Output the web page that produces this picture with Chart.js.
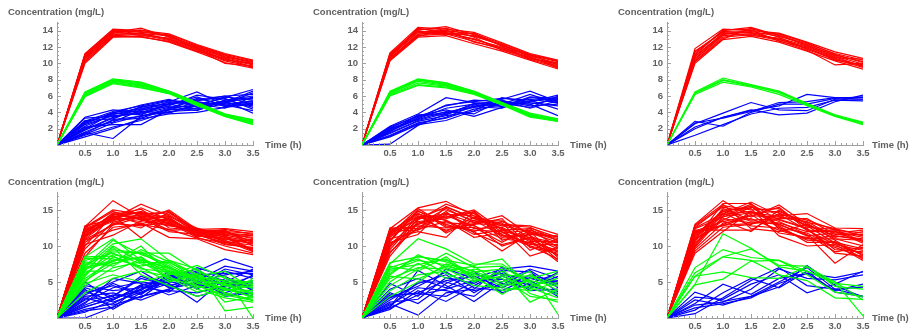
<!DOCTYPE html>
<html>
<head>
<meta charset="utf-8">
<script src="https://cdn.jsdelivr.net/npm/chart.js@4.4.1/dist/chart.umd.min.js"></script>
<style>
  body { margin: 0; background: #fff; }
  #wrap { position: relative; width: 910px; height: 330px; overflow: hidden; }
  canvas { position: absolute; }
</style>
</head>
<body>
<div id="wrap"></div>
<script>
// sampling times (h)
const times = [0, 0.5, 1.0, 1.5, 2.0, 2.5, 3.0, 3.5];

// ---- top left ----
const redA = [
  [0,11.2,14.2,14.0,13.6,12.3,11.2,10.4],
  [0,10.0,13.2,13.3,12.6,11.4,10.1,9.4],
  [0,11.0,14.0,13.9,13.4,12.0,10.8,10.1],
  [0,10.6,13.6,13.6,13.0,11.8,10.5,9.8],
  [0,10.9,13.8,14.3,13.2,12.1,11.0,10.0],
  [0,10.3,13.4,13.5,12.8,11.6,10.3,9.6],
  [0,11.1,14.1,13.8,13.5,12.2,11.1,10.3],
  [0,10.7,13.9,13.4,13.1,11.9,10.7,9.9],
  [0,10.5,13.5,13.7,12.9,11.7,10.0,9.7],
  [0,10.8,13.7,14.1,13.3,12.0,10.9,10.2],
  [0,10.2,13.3,13.2,12.7,11.5,10.6,9.5],
  [0,11.0,14.0,13.6,13.4,11.8,10.4,10.0]
];
const greenA = [
  [0,6.5,8.1,7.7,6.6,5.2,3.8,3.1],
  [0,5.9,7.5,7.0,6.3,4.8,3.5,2.5],
  [0,6.3,7.9,7.5,6.5,5.0,3.7,2.9],
  [0,6.1,7.7,7.2,6.4,4.9,3.6,2.7],
  [0,6.4,8.0,7.6,6.5,5.1,3.7,3.0],
  [0,6.0,7.6,7.1,6.3,4.9,3.5,2.6],
  [0,6.2,7.8,7.4,6.4,5.0,3.6,2.8],
  [0,6.4,7.9,7.3,6.6,5.2,3.8,3.0]
];
const blueA = [
  [0,3.4,4.3,4.0,5.0,4.4,5.5,6.0],
  [0,1.5,0.8,3.5,4.3,4.5,5.2,4.8],
  [0,2.2,2.5,2.5,4.3,5.2,5.0,5.4],
  [0,1.0,2.0,3.2,3.8,4.0,4.6,5.0],
  [0,2.8,3.8,4.2,5.3,6.5,4.9,4.2],
  [0,1.8,3.3,4.7,5.0,5.5,5.8,6.8],
  [0,2.5,3.6,3.8,4.6,4.8,5.3,5.7],
  [0,3.0,3.2,4.5,4.9,5.9,4.7,5.2],
  [0,1.3,2.7,3.6,4.0,4.8,5.9,5.5],
  [0,2.0,3.9,4.9,5.6,4.6,5.4,3.9],
  [0,1.6,3.0,3.3,4.4,5.6,6.0,6.2],
  [0,2.6,4.0,4.4,5.2,5.0,4.5,5.9],
  [0,3.3,3.5,3.9,4.8,6.1,5.6,4.6],
  [0,1.2,2.2,3.0,4.1,4.3,5.1,6.4],
  [0,2.3,3.7,4.6,5.4,5.3,4.8,5.1],
  [0,1.9,3.4,4.1,3.9,5.0,5.7,4.4],
  [0,2.9,4.1,4.8,5.5,4.9,5.2,6.6],
  [0,1.4,3.1,3.5,4.5,5.7,4.9,5.3],
  [0,2.1,2.8,4.3,4.7,4.2,5.5,5.8],
  [0,2.7,3.9,3.7,5.1,5.4,6.0,4.9]
];

// ---- top middle ----
const redB = [
  [0,11.3,14.4,14.2,13.8,12.5,11.2,10.4],
  [0,10.3,13.2,13.4,12.4,11.5,10.4,9.3],
  [0,11.0,14.1,14.5,13.5,12.2,11.0,10.2],
  [0,10.6,13.6,13.7,13.0,11.8,10.7,9.7],
  [0,10.9,13.9,13.9,13.3,12.3,10.9,10.0],
  [0,10.4,13.4,13.6,12.7,11.7,10.5,9.5],
  [0,11.1,14.2,14.0,13.6,12.4,11.1,10.3],
  [0,10.8,13.8,13.8,12.9,12.0,10.6,9.9],
  [0,10.5,13.5,14.3,13.2,11.6,10.8,9.6],
  [0,11.2,14.0,13.5,13.7,12.1,10.5,10.1],
  [0,10.7,13.3,14.1,12.6,11.9,11.0,9.8],
  [0,10.9,14.3,13.7,13.4,12.2,10.8,9.4]
];
const greenB = [
  [0,6.6,8.1,7.6,6.6,5.2,3.9,3.2],
  [0,6.0,7.3,7.0,6.2,4.9,3.4,2.9],
  [0,6.4,7.9,7.5,6.5,5.1,3.7,3.1],
  [0,6.2,7.6,7.2,6.3,5.0,3.5,3.0],
  [0,6.5,8.0,7.4,6.4,5.1,3.8,3.0],
  [0,6.1,7.4,7.1,6.3,4.9,3.6,2.9],
  [0,6.3,7.8,7.3,6.5,5.0,3.7,3.1],
  [0,6.5,8.0,7.6,6.4,5.2,3.6,3.2]
];
const blueB = [
  [0,0.1,2.4,3.8,4.6,5.2,5.0,5.6],
  [0,2.3,3.8,5.8,5.2,5.0,5.6,5.2],
  [0,1.9,3.4,4.8,5.5,5.3,5.0,3.6],
  [0,1.5,3.0,3.9,4.9,5.6,6.6,5.3],
  [0,1.2,2.7,3.3,4.4,4.9,5.3,6.1],
  [0,2.1,3.6,4.3,3.5,4.6,5.4,5.8],
  [0,1.7,3.2,4.5,5.0,5.4,4.8,5.0],
  [0,1.0,2.5,3.0,4.2,5.8,5.2,4.8],
  [0,2.2,3.5,4.0,4.7,4.5,5.8,5.5],
  [0,1.4,2.9,3.6,4.1,5.1,4.6,6.0],
  [0,1.8,3.3,4.9,5.3,5.7,5.5,4.4],
  [0,1.1,2.6,3.4,4.8,5.0,6.2,5.1],
  [0,2.0,3.1,4.1,3.8,5.5,4.5,5.4],
  [0,1.6,3.7,3.7,5.1,4.7,5.9,5.7]
];

// ---- top right ----
const redC = [
  [0,11.8,14.2,14.0,13.7,12.6,11.4,10.6],
  [0,10.0,12.9,13.3,12.6,11.5,10.3,9.3],
  [0,11.2,14.0,14.4,13.4,12.2,11.0,10.2],
  [0,10.5,13.4,13.6,13.0,11.8,10.6,9.7],
  [0,11.5,13.8,13.9,13.3,12.4,11.2,10.4],
  [0,10.3,13.2,13.5,12.8,11.6,9.8,10.0],
  [0,11.0,14.1,14.2,13.5,12.3,10.9,9.9],
  [0,10.8,13.6,13.8,12.9,12.0,10.7,10.5],
  [0,10.2,13.0,14.3,13.2,11.7,10.5,9.5],
  [0,11.4,13.9,13.7,13.6,12.5,11.1,10.1],
  [0,10.6,13.5,14.1,12.7,11.9,10.4,9.8],
  [0,10.9,13.7,13.4,13.1,12.1,10.8,9.6]
];
const greenC = [
  [0,6.5,8.2,7.4,6.6,5.1,3.7,2.8],
  [0,6.2,7.7,7.1,6.2,4.8,3.5,2.5],
  [0,6.4,8.0,7.3,6.4,5.0,3.6,2.6],
  [0,6.3,7.9,7.2,6.5,4.9,3.6,2.7]
];
const blueC = [
  [0,2.9,2.3,4.0,5.0,5.0,5.7,5.9],
  [0,2.6,3.9,5.2,4.3,4.2,5.6,5.6],
  [0,2.2,3.4,4.2,4.8,6.2,5.8,5.6],
  [0,2.0,3.4,4.3,3.7,3.9,5.3,6.1],
  [0,1.2,2.5,3.8,4.5,4.6,5.5,5.4],
  [0,2.7,3.3,4.1,5.2,5.3,5.8,5.8]
];

// ---- bottom left ----
const redD = [
  [0,12.7,16.3,14.0,13.5,11.8,11.0,10.3],
  [0,11.5,13.8,15.8,14.2,12.0,11.5,10.8],
  [0,10.2,11.5,13.5,15.0,12.3,12.4,12.0],
  [0,12.0,14.2,11.1,14.0,11.5,10.5,9.6],
  [0,8.5,13.0,14.6,13.2,11.2,10.0,9.0],
  [0,11.8,14.5,13.8,12.0,11.6,11.8,11.5],
  [0,12.3,13.5,14.3,14.8,12.1,12.2,10.0],
  [0,10.8,12.2,13.2,11.2,11.0,9.5,8.8],
  [0,11.2,14.0,14.8,13.7,11.9,11.3,10.6],
  [0,12.5,14.8,13.6,12.8,12.4,10.8,9.4],
  [0,9.6,13.3,14.1,13.9,11.3,11.6,11.2],
  [0,11.0,13.9,13.4,14.4,11.7,10.2,9.8],
  [0,12.1,14.3,15.1,12.5,12.2,12.0,11.8],
  [0,10.5,13.1,12.8,13.3,11.4,11.1,10.4],
  [0,11.6,14.6,14.5,14.6,12.0,10.7,9.2],
  [0,12.8,13.7,13.9,13.1,11.8,11.9,11.0],
  [0,9.0,12.6,13.0,12.3,11.1,10.4,10.9],
  [0,11.3,14.1,14.2,14.1,12.5,11.4,9.5],
  [0,12.2,13.6,15.3,13.6,11.6,12.3,11.6],
  [0,10.0,14.4,13.7,12.9,11.9,10.6,10.1],
  [0,11.9,13.4,12.5,14.7,12.1,11.2,9.3],
  [0,12.6,15.0,14.4,13.4,11.5,10.9,10.7],
  [0,10.9,12.9,14.0,12.2,12.3,11.7,11.4],
  [0,11.4,14.2,13.1,13.8,11.7,10.3,9.7],
  [0,12.4,13.9,14.7,13.0,12.0,12.1,10.5]
];
const greenD = [
  [0,8.5,11.0,8.0,7.0,5.5,4.0,3.0],
  [0,7.0,10.3,11.0,8.0,6.0,4.5,3.5],
  [0,6.0,9.5,9.0,9.0,6.5,5.0,4.2],
  [0,5.5,8.0,9.2,7.2,5.0,3.5,2.5],
  [0,7.5,7.5,8.5,6.0,7.3,5.5,4.8],
  [0,4.5,7.0,7.8,5.5,4.5,3.0,5.5],
  [0,8.0,9.0,7.5,6.5,5.8,6.5,4.0],
  [0,6.5,6.5,8.2,6.8,4.8,4.2,2.8],
  [0,5.0,8.5,7.0,5.0,6.2,3.8,4.5],
  [0,7.2,10.8,8.8,7.5,5.2,4.8,3.2],
  [0,3.5,5.5,6.5,5.8,4.0,2.8,2.2],
  [0,6.8,7.8,10.0,6.2,5.6,5.2,5.0],
  [0,8.3,8.2,7.2,8.0,6.8,1.0,1.5],
  [0,5.8,9.8,6.0,4.5,3.0,4.0,3.8],
  [0,7.8,7.2,9.5,7.8,5.4,5.8,0.0],
  [0,6.2,8.8,8.0,6.6,4.5,3.2,2.4],
  [0,4.8,6.0,5.0,6.0,6.8,4.5,4.3],
  [0,7.4,9.2,9.0,7.0,5.0,4.0,3.4],
  [0,5.2,7.6,8.5,5.2,5.9,3.4,2.6],
  [0,8.5,8.6,6.8,6.4,4.2,5.0,4.6],
  [0,6.6,10.0,7.7,7.7,6.0,2.2,3.0],
  [0,7.0,8.0,8.4,5.6,3.6,4.6,5.2]
];
const blueD = [
  [0,0.0,1.5,3.0,4.0,5.0,6.0,6.5],
  [0,5.0,2.5,4.5,5.5,6.5,8.2,7.0],
  [0,4.0,1.2,3.5,4.8,2.2,5.5,4.0],
  [0,3.0,3.5,2.5,4.0,5.8,3.0,3.5],
  [0,2.0,5.5,4.8,3.2,4.5,5.0,6.8],
  [0,1.2,2.0,4.0,5.8,6.8,4.2,3.0],
  [0,3.5,4.5,3.2,6.0,4.0,6.5,5.5],
  [0,2.5,3.0,5.5,4.5,5.5,4.8,4.5],
  [0,1.5,2.8,3.8,6.5,5.0,3.8,6.0],
  [0,4.5,3.8,4.2,5.0,7.0,5.8,3.8],
  [0,2.8,1.8,3.0,3.8,3.5,4.5,5.8],
  [0,0.8,2.5,4.6,5.3,6.0,6.2,6.2],
  [0,3.2,5.0,6.5,4.2,4.8,3.5,4.8],
  [0,1.8,3.2,2.8,5.6,6.2,5.2,3.2],
  [0,2.2,4.2,5.0,4.6,3.0,4.0,5.0],
  [0,3.8,2.2,3.6,5.2,5.2,7.2,6.5],
  [0,1.0,1.5,4.4,3.6,6.4,5.0,4.2],
  [0,2.6,4.8,3.3,6.2,4.2,4.4,5.2],
  [0,4.2,3.0,5.8,4.4,5.6,3.2,3.6],
  [0,1.6,2.6,4.0,5.0,4.6,6.8,6.0]
];

// ---- bottom middle ----
const redE = [
  [0,12.4,15.3,16.2,14.2,13.0,12.8,11.6],
  [0,11.0,12.0,11.2,14.8,11.5,10.0,9.2],
  [0,9.5,13.8,14.5,13.2,14.2,11.5,8.0],
  [0,12.0,14.5,13.0,12.0,9.3,11.8,10.5],
  [0,10.5,11.6,15.5,13.8,12.5,8.6,9.8],
  [0,11.8,14.8,13.5,11.2,11.8,12.2,11.0],
  [0,8.6,13.2,14.0,15.0,12.2,10.8,7.8],
  [0,12.2,12.8,12.5,12.6,10.5,12.5,11.2],
  [0,10.8,15.0,15.0,13.5,13.5,11.0,10.0],
  [0,11.5,13.0,14.2,12.8,11.0,10.5,9.4],
  [0,9.8,14.2,12.0,14.0,12.8,12.0,10.8],
  [0,12.5,12.4,14.8,11.8,10.2,11.2,8.6],
  [0,11.2,14.0,13.2,13.0,13.8,9.8,9.0],
  [0,10.2,13.6,15.8,14.5,11.2,11.6,11.4],
  [0,11.6,15.2,12.8,12.2,12.0,10.2,10.2],
  [0,12.3,13.4,13.8,14.8,10.8,12.0,8.4],
  [0,9.2,12.6,14.6,12.4,12.6,10.6,10.6],
  [0,11.9,14.6,11.8,13.6,11.4,11.4,9.6],
  [0,10.0,13.0,15.2,13.3,13.2,9.4,11.0],
  [0,11.4,14.4,13.6,11.6,12.2,12.4,9.8],
  [0,12.1,12.2,14.4,14.2,11.6,10.4,8.8],
  [0,10.6,14.9,12.6,12.9,10.0,11.2,10.4],
  [0,11.7,13.8,15.4,13.9,12.4,10.9,9.2],
  [0,10.4,12.3,13.4,12.0,13.4,11.8,11.3],
  [0,12.0,14.1,14.0,14.6,11.9,10.0,8.2],
  [0,9.0,13.4,12.2,13.1,12.9,12.6,10.7]
];
const greenE = [
  [0,7.5,11.0,9.6,7.5,7.5,5.0,3.5],
  [0,7.7,8.5,8.0,7.3,8.2,4.2,2.8],
  [0,6.0,8.8,7.0,5.8,3.3,5.5,6.5],
  [0,5.5,7.0,6.8,5.0,6.5,2.2,4.0],
  [0,3.0,5.0,7.5,6.5,5.0,6.5,0.5],
  [0,7.0,8.2,6.2,4.5,4.2,3.8,5.0],
  [0,4.5,6.8,9.0,7.0,7.2,4.8,3.2],
  [0,6.5,8.0,7.4,6.0,5.5,3.0,2.5],
  [0,5.0,7.6,5.5,6.8,6.0,5.8,4.6],
  [0,7.2,6.5,8.5,5.5,3.8,4.4,5.5],
  [0,6.2,8.6,7.8,6.4,6.8,3.4,2.2],
  [0,3.8,6.0,6.5,7.2,4.6,6.0,3.8],
  [0,6.8,7.4,8.2,5.2,5.8,4.0,6.2],
  [0,5.8,5.4,7.2,6.2,4.4,5.2,4.4]
];
const blueE = [
  [0,4.8,3.0,6.8,5.5,6.8,7.2,6.5],
  [0,2.0,0.4,3.5,4.0,7.1,5.2,3.0],
  [0,1.5,6.6,4.5,2.3,5.0,6.8,5.5],
  [0,3.5,2.0,4.8,6.5,3.5,4.8,6.2],
  [0,1.2,3.8,2.3,4.5,6.5,3.8,4.0],
  [0,2.5,4.8,6.0,3.5,5.8,4.5,3.4],
  [0,3.0,3.5,5.2,5.8,4.2,6.0,5.0],
  [0,1.8,4.2,3.8,3.0,6.0,5.5,4.6],
  [0,4.0,5.5,4.2,6.2,4.8,4.2,5.8],
  [0,2.2,2.6,5.6,4.8,6.6,6.4,3.6],
  [0,1.4,3.2,4.0,5.2,5.4,4.0,6.4],
  [0,2.8,4.4,6.4,4.2,3.8,5.6,4.8],
  [0,3.2,3.4,3.0,5.0,6.2,4.6,5.2],
  [0,1.6,5.0,5.0,3.8,4.6,6.6,4.2]
];

// ---- bottom right ----
const redF = [
  [0,13.0,16.3,14.0,15.7,13.0,11.0,10.0],
  [0,12.5,14.5,16.1,14.2,14.5,12.5,12.4],
  [0,9.0,12.0,14.8,13.0,11.5,7.6,10.2],
  [0,11.8,13.5,12.0,15.0,12.8,11.8,11.5],
  [0,10.2,15.0,15.2,11.4,10.0,10.2,8.0],
  [0,12.2,12.2,12.2,14.5,13.6,12.2,11.8],
  [0,11.2,14.2,15.8,13.6,12.4,9.5,9.2],
  [0,9.6,13.2,13.8,12.2,11.0,11.4,10.8],
  [0,12.8,15.4,14.6,14.8,13.2,10.8,8.6],
  [0,10.8,13.8,13.2,13.2,12.0,12.0,11.2],
  [0,11.5,14.8,15.5,12.8,10.5,10.5,9.6],
  [0,12.0,12.8,14.2,14.0,13.4,11.2,12.0],
  [0,10.0,14.6,12.8,12.5,11.8,9.8,8.4],
  [0,12.6,15.6,15.0,15.2,12.6,12.3,10.6],
  [0,11.0,13.0,14.4,11.8,11.2,10.0,9.0],
  [0,10.6,15.2,13.6,13.8,13.8,11.6,11.6],
  [0,12.4,14.0,15.6,12.6,10.8,10.6,8.2],
  [0,9.3,12.6,13.0,14.4,12.2,12.1,10.4],
  [0,11.6,14.4,14.8,13.4,11.6,9.2,9.8],
  [0,12.9,15.8,12.4,12.0,13.0,11.4,11.0],
  [0,10.4,13.6,15.4,14.6,12.8,10.4,8.8],
  [0,11.3,14.9,13.4,13.0,11.4,11.8,12.2],
  [0,12.1,13.4,14.2,15.4,12.2,10.2,9.4],
  [0,10.9,15.9,15.9,12.4,11.0,11.0,10.8],
  [0,11.9,12.9,13.1,13.7,12.5,9.0,8.6],
  [0,9.8,14.1,14.6,14.1,13.3,12.4,11.4]
];
const greenF = [
  [0,4.7,11.7,9.7,7.1,6.5,5.0,0.3],
  [0,7.0,9.5,8.4,8.0,6.0,3.6,3.0],
  [0,5.8,6.4,5.6,5.5,7.1,5.0,2.5],
  [0,5.8,8.5,9.6,7.3,7.2,4.4,4.0],
  [0,4.6,5.4,7.9,8.0,6.5,4.8,4.4],
  [0,6.3,8.5,8.0,6.0,5.2,2.8,2.6]
];
const blueF = [
  [0,3.6,2.3,3.0,4.3,7.3,4.5,2.9],
  [0,2.9,2.6,4.7,6.0,3.5,4.7,6.5],
  [0,2.0,4.7,3.3,5.5,6.2,3.8,4.7],
  [0,1.4,2.0,2.8,4.8,6.2,5.6,6.4],
  [0,0.6,2.8,5.2,7.0,4.5,4.0,3.0],
  [0,1.8,2.2,4.0,6.8,5.5,5.3,6.0],
  [0,2.5,1.8,3.0,5.0,7.0,4.0,4.3],
  [0,1.1,3.5,5.5,4.2,6.5,3.6,3.0]
];

// y axis ranges per row
const topYMax = 15, topYStep = 2, topYMinor = 0.5;
const botYMax = 17.4, botYStep = 5, botYMinor = 1;

const panels = [
  { red: redA, green: greenA, blue: blueA, left: 0,   top: 0,   row: 0, tGap: 12 },
  { red: redB, green: greenB, blue: blueB, left: 305, top: 0,   row: 0, tGap: 12 },
  { red: redC, green: greenC, blue: blueC, left: 610, top: 0,   row: 0, tGap: 9 },
  { red: redD, green: greenD, blue: blueD, left: 0,   top: 165, row: 1, tGap: 12 },
  { red: redE, green: greenE, blue: blueE, left: 305, top: 165, row: 1, tGap: 12 },
  { red: redF, green: greenF, blue: blueF, left: 610, top: 165, row: 1, tGap: 9 }
];

const textColor = '#606060';
const axisColor = '#a0a0a0';
const fontFam = '"Liberation Sans", Arial, sans-serif';

function lineSet(rows, color) {
  return rows.map(r => ({
    data: times.map((t, i) => ({ x: t, y: r[i] })),
    borderColor: color,
    borderWidth: 1.2,
    pointRadius: 0,
    tension: 0,
    fill: false
  }));
}

// axis labels + inward minor ticks, mathematica style
const decor = {
  id: 'decor',
  afterDraw(chart) {
    const ctx = chart.ctx;
    const a = chart.chartArea;
    const xs = chart.scales.x, ys = chart.scales.y;
    const opt = chart.options.plugins.decor;
    ctx.save();
    ctx.strokeStyle = axisColor;
    ctx.lineWidth = 1;
    ctx.beginPath();
    for (let i = 1; i <= 35; i++) {
      const px = Math.round(xs.getPixelForValue(i / 10)) + 0.5;
      const len = (i % 5 === 0) ? 4 : 2;
      ctx.moveTo(px, a.bottom);
      ctx.lineTo(px, a.bottom - len);
    }
    const n = Math.floor(ys.max / opt.minorY);
    for (let i = 1; i <= n; i++) {
      const v = i * opt.minorY;
      const py = Math.round(ys.getPixelForValue(v)) + 0.5;
      const isMaj = Math.abs(v / opt.majorY - Math.round(v / opt.majorY)) < 1e-6;
      ctx.moveTo(a.left, py);
      ctx.lineTo(a.left + (isMaj ? 4 : 2), py);
    }
    ctx.stroke();

    ctx.fillStyle = textColor;
    ctx.font = 'bold 9.5px ' + fontFam;
    ctx.textBaseline = 'middle';
    ctx.textAlign = 'left';
    ctx.fillText('Concentration (mg/L)', a.left - 49, a.top - 10);
    ctx.fillText('Time (h)', a.right + opt.tGap, a.bottom);
    ctx.restore();
  }
};

const wrap = document.getElementById('wrap');
panels.forEach(p => {
  const cv = document.createElement('canvas');
  cv.width = 303;
  cv.height = 165;
  cv.style.left = p.left + 'px';
  cv.style.top = p.top + 'px';
  wrap.appendChild(cv);

  const ymax = p.row === 0 ? topYMax : botYMax;
  const ystep = p.row === 0 ? topYStep : botYStep;
  const yminor = p.row === 0 ? topYMinor : botYMinor;
  const xH = p.row === 0 ? 20 : 12;
  const padTop = p.row === 0 ? 22.5 : 27.7;

  new Chart(cv.getContext('2d'), {
    type: 'line',
    data: {
      datasets: [].concat(lineSet(p.green, '#00ff00'), lineSet(p.blue, '#0000ff'), lineSet(p.red, '#ff0000'))
    },
    options: {
      responsive: false,
      animation: false,
      devicePixelRatio: 1,
      layout: { padding: { left: 0, right: 50, top: padTop, bottom: 0 } },
      plugins: {
        legend: { display: false },
        tooltip: { enabled: false },
        decor: { minorY: yminor, majorY: ystep, tGap: p.tGap }
      },
      scales: {
        x: {
          type: 'linear',
          min: 0,
          max: 3.5,
          afterFit: s => { s.height = xH; },
          grid: { drawOnChartArea: false, drawTicks: false },
          border: { color: axisColor, width: 1 },
          ticks: {
            stepSize: 0.5,
            includeBounds: false,
            padding: 3,
            maxRotation: 0,
            color: textColor,
            font: { family: fontFam, size: 9.5, weight: 'bold' },
            callback: v => (v === 0 ? '' : v.toFixed(1))
          }
        },
        y: {
          type: 'linear',
          min: 0,
          max: ymax,
          afterFit: s => { s.width = 57; },
          grid: { drawOnChartArea: false, drawTicks: false },
          border: { color: axisColor, width: 1 },
          ticks: {
            stepSize: ystep,
            includeBounds: false,
            padding: 4,
            color: textColor,
            font: { family: fontFam, size: 9.5, weight: 'bold' },
            callback: v => (v === 0 ? '' : String(v))
          }
        }
      }
    },
    plugins: [decor]
  });
});
</script>
</body>
</html>
